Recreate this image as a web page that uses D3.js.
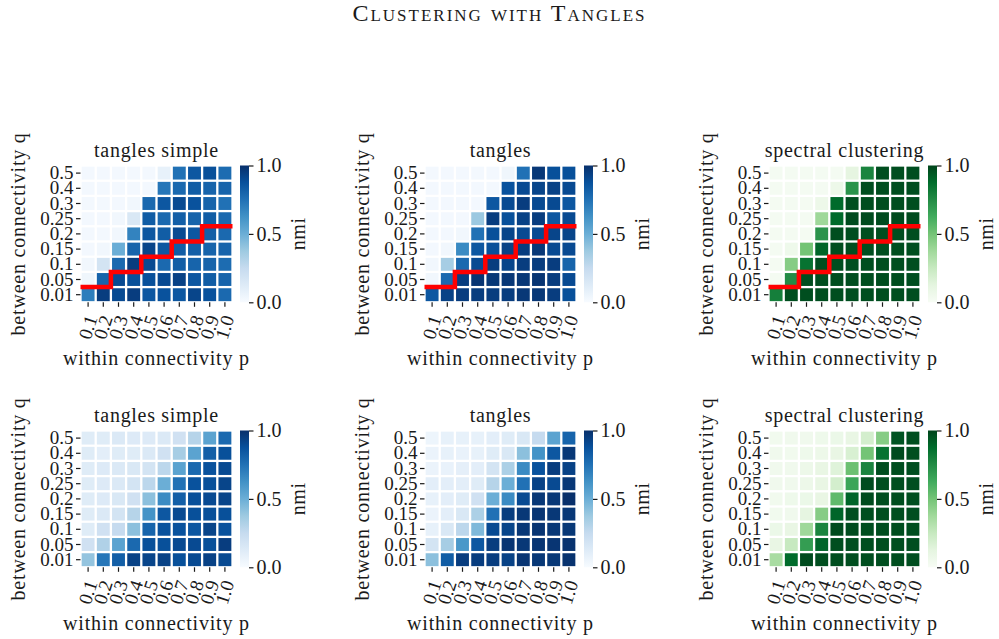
<!DOCTYPE html>
<html>
<head>
<meta charset="utf-8">
<script src="https://cdn.jsdelivr.net/npm/d3@7"></script>
<style>
  html, body { margin: 0; padding: 0; background: #fff; }
  svg text { font-family: "Liberation Serif", "DejaVu Serif", serif; fill: #1a1a1a; }
</style>
</head>
<body>
<svg id="chart" width="999" height="639"></svg>
<script>
// Grid axes
const pLabels = ["0.1", "0.2", "0.3", "0.4", "0.5", "0.6", "0.7", "0.8", "0.9", "1.0"];
const qLabels = ["0.5", "0.4", "0.3", "0.25", "0.2", "0.15", "0.1", "0.05", "0.01"]; // top row first
const cbarTicks = [0.0, 0.5, 1.0];

// NMI per (q, p), rows ordered like qLabels
const tanglesSimpleA = [
  [0.02, 0.02, 0.02, 0.02, 0.02, 0.08, 0.75, 0.85, 0.88, 0.77],
  [0.02, 0.02, 0.02, 0.02, 0.02, 0.73, 0.78, 0.83, 0.80, 0.80],
  [0.02, 0.02, 0.02, 0.03, 0.78, 0.85, 0.90, 0.87, 0.80, 0.75],
  [0.02, 0.02, 0.03, 0.15, 0.83, 0.78, 0.82, 0.80, 0.83, 0.78],
  [0.02, 0.02, 0.03, 0.68, 0.85, 0.83, 0.90, 0.85, 0.82, 0.78],
  [0.02, 0.03, 0.50, 0.80, 0.92, 0.85, 0.83, 0.82, 0.80, 0.80],
  [0.03, 0.18, 0.78, 0.95, 0.90, 0.78, 0.83, 0.80, 0.80, 0.77],
  [0.04, 0.80, 0.90, 0.88, 0.88, 0.90, 0.93, 0.85, 0.83, 0.80],
  [0.70, 0.95, 0.90, 0.95, 0.85, 0.87, 0.85, 0.92, 0.87, 0.78]
];
const tanglesA = [
  [0.02, 0.02, 0.02, 0.02, 0.02, 0.04, 0.75, 0.97, 0.88, 0.88],
  [0.02, 0.02, 0.02, 0.02, 0.02, 0.87, 0.90, 0.92, 0.93, 0.90],
  [0.02, 0.02, 0.02, 0.02, 0.85, 0.90, 0.95, 0.90, 0.90, 0.85],
  [0.02, 0.02, 0.02, 0.38, 0.95, 0.88, 0.93, 0.95, 0.85, 0.90],
  [0.02, 0.02, 0.03, 0.75, 0.88, 0.92, 0.90, 0.90, 0.92, 0.92],
  [0.02, 0.03, 0.65, 0.85, 0.88, 0.93, 0.95, 0.97, 0.90, 0.90],
  [0.03, 0.35, 0.78, 0.90, 0.95, 0.92, 0.95, 0.95, 0.95, 0.80],
  [0.03, 0.78, 0.95, 0.98, 0.97, 0.97, 0.97, 0.98, 0.95, 0.90],
  [0.85, 0.93, 0.95, 0.95, 0.95, 0.95, 0.97, 0.97, 0.95, 0.88]
];
const spectralA = [
  [0.02, 0.02, 0.02, 0.02, 0.02, 0.12, 0.78, 0.97, 0.97, 0.97],
  [0.02, 0.02, 0.02, 0.02, 0.07, 0.72, 0.97, 0.97, 0.97, 0.97],
  [0.02, 0.02, 0.02, 0.07, 0.88, 0.97, 0.97, 0.97, 0.97, 0.97],
  [0.02, 0.02, 0.02, 0.38, 0.88, 0.98, 0.98, 0.98, 0.98, 0.98],
  [0.02, 0.02, 0.02, 0.72, 0.97, 0.97, 0.97, 0.97, 0.97, 0.97],
  [0.02, 0.06, 0.50, 0.90, 0.97, 0.97, 0.97, 0.97, 0.97, 0.97],
  [0.02, 0.45, 0.85, 0.97, 0.97, 0.97, 0.97, 0.97, 0.97, 0.97],
  [0.02, 0.75, 0.97, 0.97, 0.97, 0.97, 0.97, 0.97, 0.97, 0.97],
  [0.80, 0.97, 0.97, 0.97, 0.97, 0.97, 0.97, 0.97, 0.97, 0.97]
];
const tanglesSimpleB = [
  [0.12, 0.12, 0.14, 0.13, 0.13, 0.14, 0.20, 0.30, 0.55, 0.78],
  [0.12, 0.10, 0.12, 0.12, 0.14, 0.20, 0.35, 0.55, 0.82, 0.88],
  [0.12, 0.13, 0.14, 0.15, 0.18, 0.28, 0.55, 0.78, 0.87, 0.90],
  [0.12, 0.13, 0.14, 0.18, 0.28, 0.50, 0.75, 0.87, 0.88, 0.92],
  [0.12, 0.13, 0.15, 0.20, 0.42, 0.65, 0.82, 0.88, 0.90, 0.92],
  [0.12, 0.14, 0.18, 0.30, 0.62, 0.85, 0.90, 0.88, 0.88, 0.88],
  [0.12, 0.20, 0.25, 0.42, 0.80, 0.87, 0.87, 0.85, 0.92, 0.87],
  [0.20, 0.32, 0.55, 0.78, 0.88, 0.88, 0.90, 0.90, 0.88, 0.95],
  [0.40, 0.73, 0.82, 0.93, 0.92, 0.93, 0.88, 0.90, 0.93, 0.90]
];
const tanglesB = [
  [0.05, 0.08, 0.08, 0.08, 0.10, 0.12, 0.15, 0.25, 0.55, 0.80],
  [0.06, 0.08, 0.07, 0.08, 0.12, 0.15, 0.42, 0.62, 0.85, 0.97],
  [0.06, 0.07, 0.09, 0.10, 0.18, 0.33, 0.65, 0.87, 0.95, 0.93],
  [0.10, 0.10, 0.10, 0.12, 0.30, 0.50, 0.75, 0.93, 0.90, 0.97],
  [0.08, 0.10, 0.12, 0.20, 0.50, 0.65, 0.90, 0.97, 0.97, 1.00],
  [0.06, 0.10, 0.15, 0.33, 0.75, 0.95, 0.97, 0.98, 0.97, 0.97],
  [0.08, 0.15, 0.28, 0.45, 0.90, 0.92, 0.97, 0.98, 0.97, 0.97],
  [0.18, 0.35, 0.60, 0.85, 0.95, 0.98, 0.97, 0.98, 0.98, 0.99],
  [0.42, 0.83, 0.95, 0.95, 0.95, 0.93, 0.98, 0.97, 0.97, 0.99]
];
const spectralB = [
  [0.04, 0.05, 0.05, 0.06, 0.08, 0.10, 0.20, 0.45, 0.95, 0.97],
  [0.05, 0.04, 0.06, 0.07, 0.10, 0.18, 0.50, 0.85, 0.98, 0.97],
  [0.05, 0.05, 0.07, 0.10, 0.15, 0.52, 0.78, 0.97, 0.97, 0.97],
  [0.05, 0.05, 0.07, 0.10, 0.20, 0.65, 0.98, 0.97, 0.97, 0.97],
  [0.04, 0.06, 0.08, 0.10, 0.55, 0.90, 0.98, 0.97, 0.97, 0.97],
  [0.04, 0.05, 0.12, 0.45, 0.90, 0.97, 0.97, 0.97, 0.97, 0.97],
  [0.08, 0.10, 0.38, 0.78, 0.98, 0.98, 0.97, 0.97, 0.97, 0.97],
  [0.10, 0.25, 0.68, 0.90, 0.97, 0.97, 0.97, 0.97, 0.97, 0.97],
  [0.35, 0.88, 0.98, 0.97, 0.97, 0.97, 0.97, 0.97, 0.97, 0.97]
];

// Theoretical threshold staircase, in cell-index units (x: column edge, y: row edge from bottom)
const thresholdX = [0, 2, 4, 6, 8, 10];
const thresholdY = [1, 2, 3, 4, 5, 5];

const bluesStops = ["#f7fbff", "#deebf7", "#c6dbef", "#9ecae1", "#6baed6", "#4292c6", "#2171b5", "#08519c", "#08306b"];
const greensStops = ["#f7fcf5", "#e5f5e0", "#c7e9c0", "#a1d99b", "#74c476", "#41ab5d", "#238b45", "#006d2c", "#00441b"];

const panels = [
  { title: "tangles simple", data: tanglesSimpleA, stops: bluesStops, col: 0, row: 0, threshold: true },
  { title: "tangles", data: tanglesA, stops: bluesStops, col: 1, row: 0, threshold: true },
  { title: "spectral clustering", data: spectralA, stops: greensStops, col: 2, row: 0, threshold: true },
  { title: "tangles simple", data: tanglesSimpleB, stops: bluesStops, col: 0, row: 1, threshold: false },
  { title: "tangles", data: tanglesB, stops: bluesStops, col: 1, row: 1, threshold: false },
  { title: "spectral clustering", data: spectralB, stops: greensStops, col: 2, row: 1, threshold: false }
];

const svg = d3.select("#chart");
const colLeft = [80.5, 424.5, 768.5];
const rowTop = [165.5, 430.5];
const cell = 15.2;
const plotW = cell * pLabels.length;
const plotH = cell * qLabels.length;
const gap = 2.3;
const fs = 20;     // labels and titles
const tfs = 19;    // tick labels

svg.append("text")
  .attr("x", 499.5).attr("y", 21)
  .attr("text-anchor", "middle")
  .style("font-variant", "small-caps")
  .style("font-size", "24px")
  .style("letter-spacing", "2px")
  .text("Clustering with Tangles");

panels.forEach((pn, idx) => {
  const L = colLeft[pn.col], T = rowTop[pn.row];
  const g = svg.append("g").attr("transform", `translate(${L},${T})`);

  const x = d3.scaleBand().domain(pLabels).range([0, plotW]);
  const y = d3.scaleBand().domain(qLabels).range([0, plotH]);
  const color = d3.scaleLinear()
    .domain(d3.range(pn.stops.length).map(i => i / (pn.stops.length - 1)))
    .range(pn.stops)
    .clamp(true);

  const cells = [];
  pn.data.forEach((row, ri) => row.forEach((v, ci) => cells.push({ q: qLabels[ri], p: pLabels[ci], v })));

  g.selectAll("rect.cell").data(cells).join("rect")
    .attr("class", "cell")
    .attr("x", d => x(d.p) + gap / 2)
    .attr("y", d => y(d.q) + gap / 2)
    .attr("width", x.bandwidth() - gap)
    .attr("height", y.bandwidth() - gap)
    .attr("fill", d => color(d.v));

  if (pn.threshold) {
    const xi = d3.scaleLinear().domain([0, pLabels.length]).range([0, plotW]);
    const yi = d3.scaleLinear().domain([0, qLabels.length]).range([plotH, 0]);
    const pts = thresholdX.map((v, i) => [v, thresholdY[i]]);
    g.append("path")
      .attr("d", d3.line().x(d => xi(d[0])).y(d => yi(d[1])).curve(d3.curveStepAfter)(pts))
      .attr("fill", "none")
      .attr("stroke", "#ff0000")
      .attr("stroke-width", 4.5);
  }

  // y axis
  const yAx = g.append("g").call(d3.axisLeft(y).tickSize(4.5).tickPadding(2.5));
  yAx.select(".domain").remove();
  yAx.selectAll(".tick line").attr("stroke", "#1a1a1a").attr("stroke-width", 1.2);
  yAx.selectAll(".tick text").style("font-size", tfs + "px").attr("font-family", null).attr("fill", "#1a1a1a");

  // x axis, rotated labels
  const xAx = g.append("g").attr("transform", `translate(0,${plotH})`).call(d3.axisBottom(x).tickSize(4.5));
  xAx.select(".domain").remove();
  xAx.selectAll(".tick line").attr("stroke", "#1a1a1a").attr("stroke-width", 1.2);
  xAx.selectAll(".tick text")
    .style("font-size", tfs + "px").attr("font-family", null).attr("fill", "#1a1a1a")
    .attr("x", 0).attr("y", 0).attr("dy", "0.33em")
    .attr("text-anchor", "middle")
    .attr("transform", "translate(0,25) rotate(-72)");

  g.append("text")
    .attr("x", plotW / 2).attr("y", -8.5)
    .attr("text-anchor", "middle")
    .style("font-size", fs + "px").style("letter-spacing", "0.7px")
    .text(pn.title);

  g.append("text")
    .attr("x", plotW / 2).attr("y", plotH + 62.7)
    .attr("text-anchor", "middle")
    .style("font-size", fs + "px").style("letter-spacing", "0.8px")
    .text("within connectivity p");

  g.append("text")
    .attr("transform", `translate(-55.5,${plotH / 2}) rotate(-90)`)
    .attr("text-anchor", "middle")
    .style("font-size", fs + "px").style("letter-spacing", "0.8px")
    .text("between connectivity q");

  // colorbar
  const cbX = plotW + 7.5, cbW = 9;
  const gradId = "grad" + idx;
  const grad = svg.append("defs").append("linearGradient")
    .attr("id", gradId).attr("x1", 0).attr("y1", 1).attr("x2", 0).attr("y2", 0);
  pn.stops.forEach((c, i) => grad.append("stop").attr("offset", i / (pn.stops.length - 1)).attr("stop-color", c));
  g.append("rect").attr("x", cbX).attr("y", 0).attr("width", cbW).attr("height", plotH)
    .attr("fill", `url(#${gradId})`);
  const cy = d3.scaleLinear().domain([0, 1]).range([plotH, 0]);
  const cAx = g.append("g").attr("transform", `translate(${cbX + cbW},0)`)
    .call(d3.axisRight(cy).tickValues(cbarTicks).tickFormat(d3.format(".1f")).tickSize(4.5).tickPadding(3));
  cAx.select(".domain").remove();
  cAx.selectAll(".tick line").attr("stroke", "#1a1a1a").attr("stroke-width", 1.2);
  cAx.selectAll(".tick text").style("font-size", fs + "px").attr("font-family", null).attr("fill", "#1a1a1a");

  g.append("text")
    .attr("transform", `translate(${plotW + 72},${plotH / 2}) rotate(-90)`)
    .attr("text-anchor", "middle")
    .style("font-size", fs + "px").style("letter-spacing", "0.6px")
    .text("nmi");
});
</script>
</body>
</html>
